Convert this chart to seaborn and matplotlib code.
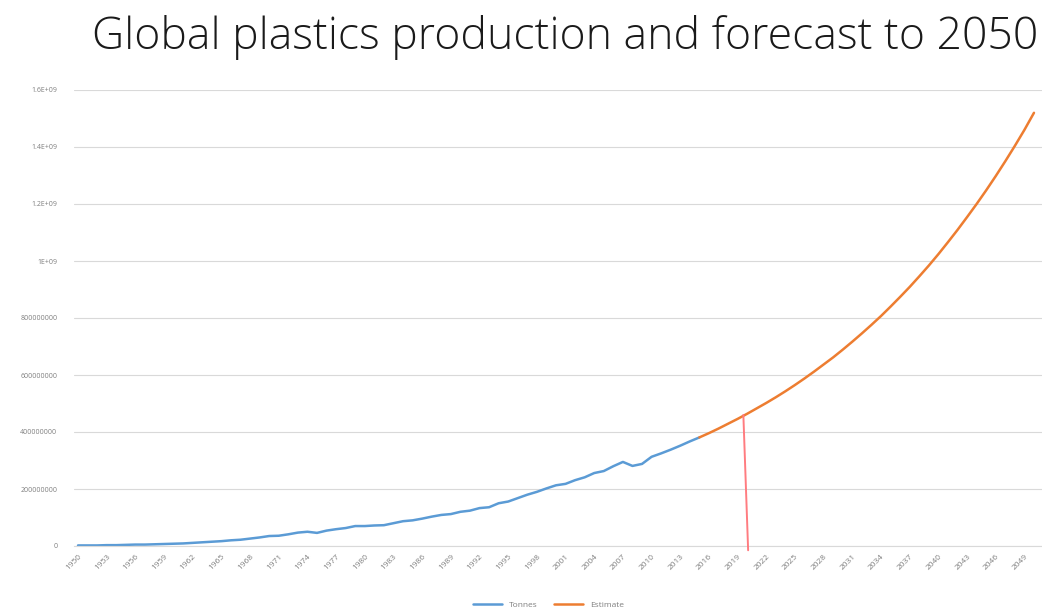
import matplotlib
matplotlib.use('Agg')
import matplotlib.pyplot as plt
import seaborn as sns
import pandas as pd

# historic production (tonnes), 1950-2015
hist_years = list(range(1950, 2016))
hist_tonnes = [
    2e6, 2e6, 2e6, 3e6, 3e6, 4e6, 5e6, 5e6, 6e6, 7e6,
    8e6, 9e6, 11e6, 13e6, 15e6, 17e6, 20e6, 22e6, 26e6, 30e6,
    35e6, 36e6, 41e6, 47e6, 50e6, 46e6, 54e6, 59e6, 63e6, 70e6,
    70e6, 72e6, 73e6, 80e6, 87e6, 90e6, 96e6, 103e6, 109e6, 112e6,
    120e6, 124e6, 133e6, 136e6, 150e6, 156e6, 168e6, 180e6, 190e6, 202e6,
    213e6, 218e6, 231e6, 241e6, 256e6, 263e6, 280e6, 295e6, 281e6, 288e6,
    313e6, 325e6, 338e6, 352e6, 367e6, 381e6,
]

# forecast (tonnes), 2015-2050
est_years = list(range(2015, 2051))
est_tonnes = [
    381e6, 396e6, 412e6, 429e6, 446e6, 464e6, 483e6, 502e6, 522e6, 543e6,
    565e6, 588e6, 612e6, 637e6, 662e6, 689e6, 717e6, 746e6, 776e6, 807e6,
    840e6, 874e6, 909e6, 946e6, 984e6, 1024e6, 1066e6, 1109e6, 1154e6, 1200e6,
    1248e6, 1298e6, 1350e6, 1404e6, 1460e6, 1520e6,
]

tick_years = list(range(1950, 2050, 3))
y_ticks = [0, 2e8, 4e8, 6e8, 8e8, 1e9, 1.2e9, 1.4e9, 1.6e9]
y_labels = ['0', '200000000', '400000000', '600000000', '800000000',
            '1E+09', '1.2E+09', '1.4E+09', '1.6E+09']

# hand-drawn marker around 2020
marker_x = [2019.6, 2020.1]
marker_y = [460e6, -15e6]

df = pd.concat([
    pd.DataFrame({'year': hist_years, 'value': hist_tonnes, 'series': 'Tonnes'}),
    pd.DataFrame({'year': est_years, 'value': est_tonnes, 'series': 'Estimate'}),
])

sns.set_style('white')
plt.rcParams['font.family'] = ['Open Sans', 'DejaVu Sans']

fig = plt.figure(figsize=(10.42, 6.15), dpi=100)
ax = fig.add_axes([74 / 1042, 69 / 615, (1042 - 74) / 1042, (546 - 90) / 615])

sns.lineplot(data=df, x='year', y='value', hue='series',
             palette={'Tonnes': '#5b9bd5', 'Estimate': '#ed7d31'},
             linewidth=1.8, ax=ax, legend=True)

ax.plot(marker_x, marker_y, color='#ff7c80', linewidth=1.4, clip_on=False, zorder=5)

ax.set_xlim(1949.58, 2050.84)
ax.set_ylim(0, 1.6e9)
ax.set_yticks(y_ticks)
ax.set_yticklabels(y_labels)
ax.set_xticks(tick_years)
ax.set_xticklabels([str(y) for y in tick_years], rotation=45, ha='right',
                   rotation_mode='anchor')
ax.tick_params(axis='y', labelsize=5, colors='#7f7f7f', length=0, pad=12)
ax.tick_params(axis='x', labelsize=6, colors='#7f7f7f', length=0, pad=5)

ax.grid(axis='y', color='#d9d9d9', linewidth=0.8)
ax.set_axisbelow(True)
for side in ['top', 'right', 'left']:
    ax.spines[side].set_visible(False)
ax.spines['bottom'].set_color('#d9d9d9')
ax.spines['bottom'].set_linewidth(0.8)
ax.set_xlabel('')
ax.set_ylabel('')

handles, labels = ax.get_legend_handles_labels()
ax.legend(handles, labels, loc='lower center', bbox_to_anchor=(0.49, -0.155),
          ncol=2, frameon=False, fontsize=6, handlelength=3.5,
          columnspacing=2, labelcolor='#7f7f7f')

fig.text(1038 / 1042, 1 - 37 / 615, 'Global plastics production and forecast to 2050',
         ha='right', va='center', fontsize=32, color='#1a1a1a', fontweight='light')

fig.savefig('out.png', dpi=100)
